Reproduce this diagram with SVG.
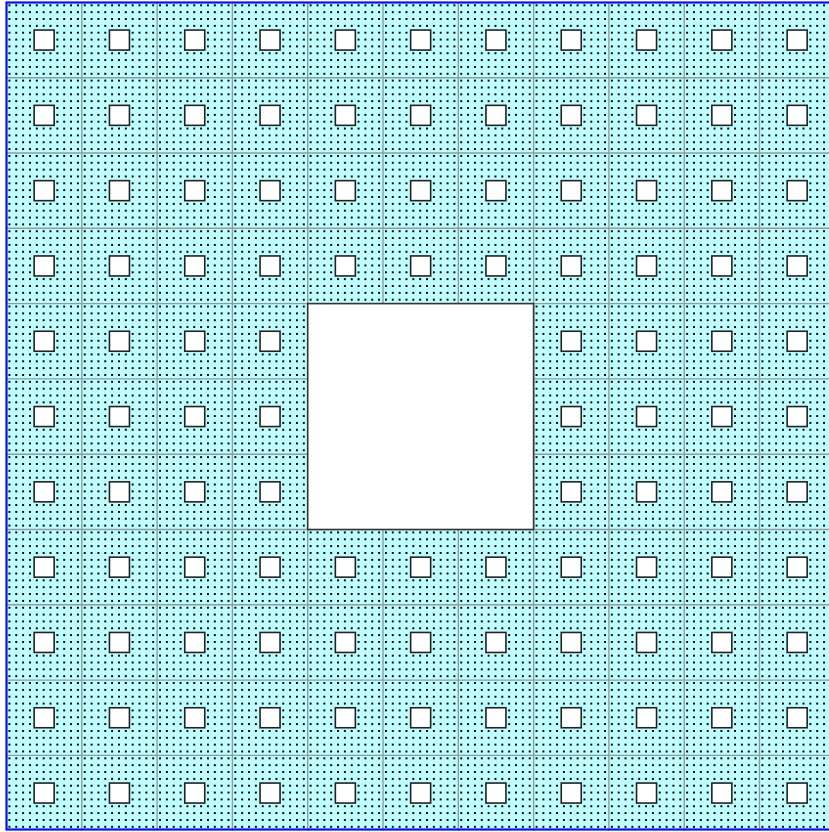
<svg xmlns="http://www.w3.org/2000/svg" xmlns:xlink="http://www.w3.org/1999/xlink" width="829" height="832" viewBox="0 0 829 832">
<style>
.bg{fill:#c0ffff}
.grid line{stroke:#8a9e9e;stroke-width:1.4}
.sq{fill:#ffffff;stroke:#222222;stroke-width:1.6}
.big{fill:#ffffff;stroke:#333333;stroke-width:1.6}
.border{fill:none;stroke:#1010e8;stroke-width:2.2}
</style>
<defs>
<pattern id="dots" patternUnits="userSpaceOnUse" x="6.5" y="2.4" width="6.8455" height="6.8455">
<rect x="2.4" y="2.4" width="2" height="2" fill="#000" shape-rendering="crispEdges"/>
</pattern>
<rect id="s" width="20" height="20" class="sq"/>
<g id="row">
<use href="#s" x="34.15"/><use href="#s" x="109.45"/><use href="#s" x="184.75"/><use href="#s" x="260.05"/><use href="#s" x="335.35"/><use href="#s" x="410.65"/><use href="#s" x="485.95"/><use href="#s" x="561.25"/><use href="#s" x="636.55"/><use href="#s" x="711.85"/><use href="#s" x="787.15"/>
</g>
</defs>
<rect class="bg" x="6.5" y="2.4" width="828.3" height="828.3"/>
<rect fill="url(#dots)" x="6.5" y="2.4" width="828.3" height="828.3"/>
<g class="grid">
<line x1="81.8" y1="2.4" x2="81.8" y2="831"/><line x1="157.1" y1="2.4" x2="157.1" y2="831"/><line x1="232.4" y1="2.4" x2="232.4" y2="831"/><line x1="307.7" y1="2.4" x2="307.7" y2="831"/><line x1="383" y1="2.4" x2="383" y2="831"/><line x1="458.3" y1="2.4" x2="458.3" y2="831"/><line x1="533.6" y1="2.4" x2="533.6" y2="831"/><line x1="608.9" y1="2.4" x2="608.9" y2="831"/><line x1="684.2" y1="2.4" x2="684.2" y2="831"/><line x1="759.5" y1="2.4" x2="759.5" y2="831"/>
<line x1="6.5" y1="77.7" x2="829" y2="77.7"/><line x1="6.5" y1="153" x2="829" y2="153"/><line x1="6.5" y1="228.3" x2="829" y2="228.3"/><line x1="6.5" y1="303.6" x2="829" y2="303.6"/><line x1="6.5" y1="378.9" x2="829" y2="378.9"/><line x1="6.5" y1="454.2" x2="829" y2="454.2"/><line x1="6.5" y1="529.5" x2="829" y2="529.5"/><line x1="6.5" y1="604.8" x2="829" y2="604.8"/><line x1="6.5" y1="680.1" x2="829" y2="680.1"/><line x1="6.5" y1="755.4" x2="829" y2="755.4"/>
</g>
<g id="squares">
<use href="#row" y="30.05"/><use href="#row" y="105.35"/><use href="#row" y="180.65"/><use href="#row" y="255.95"/><use href="#row" y="331.25"/><use href="#row" y="406.55"/><use href="#row" y="481.85"/><use href="#row" y="557.15"/><use href="#row" y="632.45"/><use href="#row" y="707.75"/><use href="#row" y="783.05"/>
</g>
<rect id="center" class="big" x="307.7" y="303.6" width="225.9" height="225.9"/>
<rect class="border" x="6.5" y="2.5" width="828" height="827"/>
</svg>
